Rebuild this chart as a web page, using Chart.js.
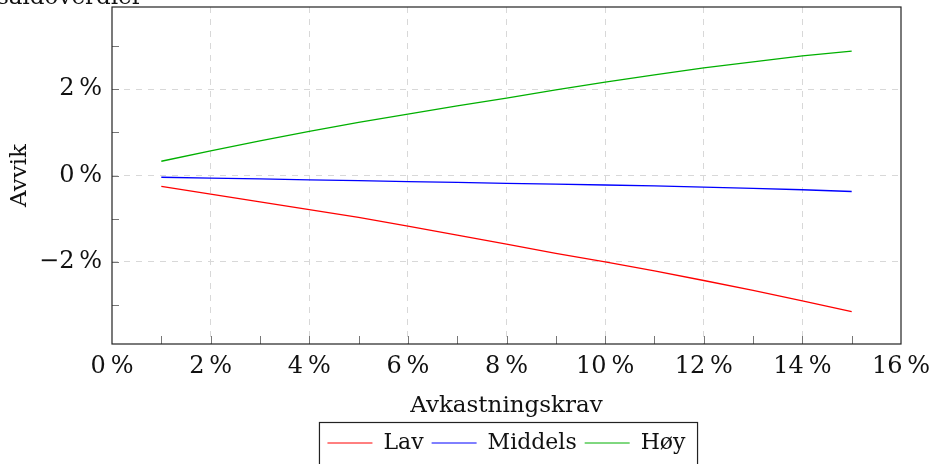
<!DOCTYPE html>
<html>
<head>
<meta charset="utf-8">
<script src="https://cdn.jsdelivr.net/npm/chart.js@4.4.1/dist/chart.umd.min.js"></script>
<style>
  html, body { margin: 0; padding: 0; background: #fff; }
  #wrap { width: 929px; height: 464px; }
</style>
</head>
<body>
<div id="wrap"><canvas id="chart" width="929" height="464"></canvas></div>
<script>
const returnRates = [1, 2, 3, 4, 5, 6, 7, 8, 9, 10, 11, 12, 13, 14, 15];
const lavValues = [-0.25, -0.43, -0.61, -0.79, -0.97, -1.17, -1.38, -1.59, -1.80, -2.00, -2.21, -2.43, -2.66, -2.90, -3.15];
const middelsValues = [-0.04, -0.06, -0.08, -0.10, -0.12, -0.14, -0.16, -0.18, -0.20, -0.22, -0.24, -0.27, -0.30, -0.33, -0.37];
const hoyValues = [0.33, 0.57, 0.80, 1.02, 1.23, 1.42, 1.61, 1.79, 1.98, 2.16, 2.33, 2.49, 2.63, 2.77, 2.88];
const xTicks = [0, 1, 2, 3, 4, 5, 6, 7, 8, 9, 10, 11, 12, 13, 14, 15, 16];
const yTicks = [-3, -2, -1, 0, 1, 2, 3];

const serif = "'DejaVu Serif', 'Liberation Serif', serif";

const pct = v => (v < 0 ? "\u2212" + Math.abs(v) : String(v)) + "\u2009%";

function toPoints(values) {
    return returnRates.map((x, i) => ({ x: x, y: values[i] }));
}

function gridColor(ctx, lo, hi) {
    const v = ctx.tick ? ctx.tick.value : null;
    if (v === null || v % 2 !== 0 || v === lo || v === hi) return "rgba(0,0,0,0)";
    return "#d8d8d8";
}

// frame, inward tick marks, cut-off title and legend box
const extras = {
    id: "extras",
    afterUpdate(chart) {
        // centre the legend under the plot area instead of the canvas
        const lg = chart.legend;
        const a = chart.chartArea;
        if (lg) {
            lg.left = a.left;
            lg.right = a.right;
            lg.width = a.right - a.left;
            lg.adjustHitBoxes();
        }
    },
    afterDraw(chart) {
        const c = chart.ctx;
        const a = chart.chartArea;
        const xs = chart.scales.x, ys = chart.scales.y;
        c.save();
        c.strokeStyle = "#777";
        c.lineWidth = 1;
        c.beginPath();
        xTicks.forEach(v => {
            if (v === 0 || v === 16) return;
            const px = Math.round(xs.getPixelForValue(v)) + 0.5;
            c.moveTo(px, a.bottom);
            c.lineTo(px, a.bottom - 8);
        });
        yTicks.forEach(v => {
            const py = Math.round(ys.getPixelForValue(v)) + 0.5;
            c.moveTo(a.left, py);
            c.lineTo(a.left + 7, py);
        });
        c.stroke();

        c.strokeStyle = "#222";
        c.lineWidth = 1.2;
        c.strokeRect(a.left, a.top, a.right - a.left, a.bottom - a.top);

        c.fillStyle = "#111";
        c.font = "23px " + serif;
        c.textBaseline = "alphabetic";
        c.textAlign = "left";
        c.fillText("saldoverdier", -3, 4);

        const lg = chart.legend;
        if (lg && lg.legendHitBoxes.length) {
            const boxes = lg.legendHitBoxes;
            const left = Math.min(...boxes.map(b => b.left)) - 8;
            const right = Math.max(...boxes.map(b => b.left + b.width)) + 12;
            c.strokeStyle = "#222";
            c.lineWidth = 1.2;
            c.strokeRect(left, 422.5, right - left, 60);
        }
        c.restore();
    }
};

const ctx = document.getElementById("chart").getContext("2d");
new Chart(ctx, {
    type: "line",
    data: {
        datasets: [
            { label: "Lav", data: toPoints(lavValues), borderColor: "#ff0000", backgroundColor: "#ff0000" },
            { label: "Middels", data: toPoints(middelsValues), borderColor: "#0000ff", backgroundColor: "#0000ff" },
            { label: "H\u00f8y", data: toPoints(hoyValues), borderColor: "#00b000", backgroundColor: "#00b000" }
        ]
    },
    options: {
        responsive: false,
        animation: false,
        devicePixelRatio: 1,
        layout: { padding: { top: 7, right: 28, left: 0, bottom: 0 } },
        elements: {
            point: { radius: 0 },
            line: { borderWidth: 1.3, tension: 0 }
        },
        scales: {
            x: {
                type: "linear",
                min: 0,
                max: 16,
                afterBuildTicks: s => { s.ticks = xTicks.map(v => ({ value: v })); },
                afterFit: s => { s.height = 80; s.paddingLeft = 0; s.paddingRight = 0; },
                border: { display: false, dash: [6, 6] },
                grid: {
                    drawTicks: false,
                    color: c => gridColor(c, 0, 16),
                    lineWidth: 1
                },
                ticks: {
                    padding: 8,
                    autoSkip: false,
                    maxRotation: 0,
                    color: "#111",
                    font: { family: serif, size: 24 },
                    callback: v => (v % 2 === 0 ? pct(v) : "")
                },
                title: {
                    display: true,
                    text: "Avkastningskrav",
                    color: "#111",
                    font: { family: serif, size: 23 },
                    padding: { top: 4, bottom: 4 }
                }
            },
            y: {
                type: "linear",
                min: -3.9,
                max: 3.9,
                afterBuildTicks: s => { s.ticks = yTicks.map(v => ({ value: v })); },
                afterFit: s => { s.width = 112; s.paddingTop = 0; s.paddingBottom = 0; },
                border: { display: false, dash: [6, 6] },
                grid: {
                    drawTicks: false,
                    color: c => gridColor(c, -99, 99),
                    lineWidth: 1
                },
                ticks: {
                    padding: 10,
                    color: "#111",
                    font: { family: serif, size: 24 },
                    callback: v => (v % 2 === 0 ? pct(v) : "")
                },
                title: {
                    display: true,
                    text: "Avvik",
                    color: "#111",
                    font: { family: serif, size: 23 },
                    padding: { top: 6, bottom: 4 }
                }
            }
        },
        plugins: {
            legend: {
                position: "bottom",
                labels: {
                    usePointStyle: true,
                    pointStyle: "line",
                    pointStyleWidth: 45,
                    padding: 8,
                    color: "#111",
                    font: { family: serif, size: 22 }
                }
            },
            tooltip: { enabled: false }
        }
    },
    plugins: [extras]
});
</script>
</body>
</html>
